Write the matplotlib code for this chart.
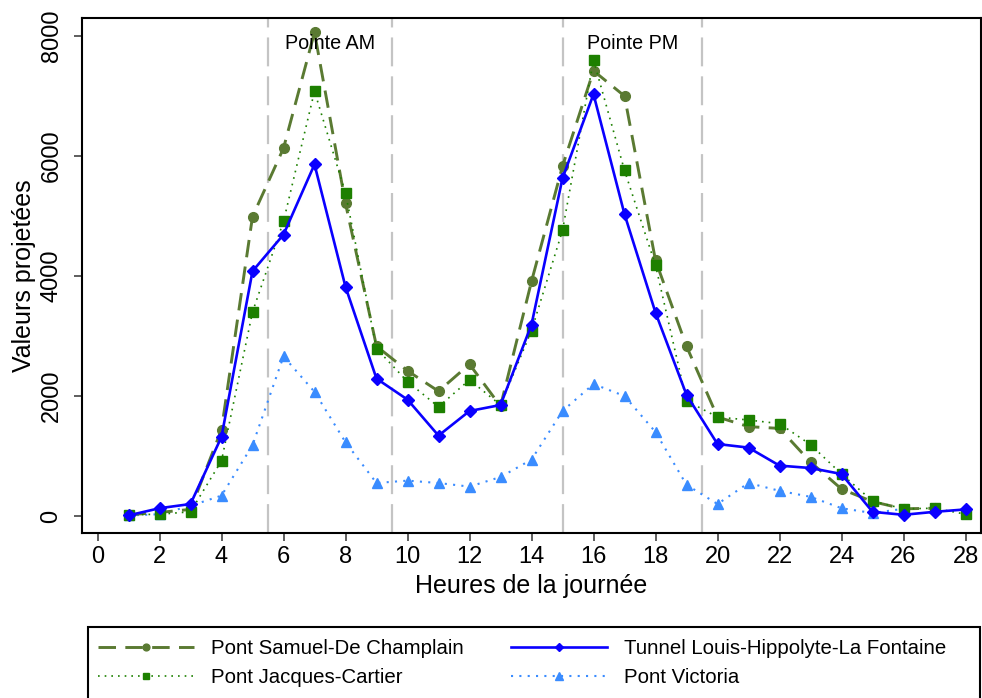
import numpy as np
import matplotlib
matplotlib.use("Agg")
import matplotlib.pyplot as plt
from matplotlib.patches import Rectangle

plt.rcParams['font.family'] = ['Liberation Sans', 'DejaVu Sans']

# Heures de la journée
heures = list(range(1, 29))

# Valeurs projetées par traversée
champlain = [20, 60, 110, 1440, 4990, 6130, 8060, 5210, 2830, 2420, 2080, 2530, 1830,
             3910, 5830, 7420, 7000, 4260, 2830, 1650, 1490, 1460, 900, 450, 240, 120, 130, np.nan]
jacques_cartier = [20, 30, 70, 920, 3400, 4910, 7080, 5380, 2790, 2240, 1820, 2270, 1850,
                   3090, 4760, 7600, 5760, 4180, 1920, 1650, 1600, 1540, 1190, 700, 250, 120, 130, 30]
tunnel = [10, 130, 200, 1320, 4080, 4690, 5860, 3820, 2290, 1940, 1340, 1750, 1850,
          3190, 5630, 7030, 5030, 3390, 2020, 1200, 1140, 840, 800, 700, 70, 20, 70, 110]
victoria = [10, 30, 170, 340, 1180, 2660, 2070, 1230, 550, 590, 550, 490, 650,
            940, 1750, 2200, 2000, 1400, 520, 200, 550, 420, 320, 130, 50, 120, np.nan, np.nan]

noms = ["Pont Samuel-De Champlain", "Pont Jacques-Cartier",
        "Tunnel Louis-Hippolyte-La Fontaine", "Pont Victoria"]

periodes = [(5.5, 9.5, "Pointe AM"), (15, 19.5, "Pointe PM")]
xticks = list(range(0, 29, 2))
yticks = [0, 2000, 4000, 6000, 8000]

W, H = 982, 698
fig = plt.figure(figsize=(W / 100, H / 100), dpi=100)
ax = fig.add_axes([82 / W, 1 - 533 / H, (981 - 82) / W, (533 - 18) / H])

# Périodes de pointe
for x0, x1, nom in periodes:
    for xv in (x0, x1):
        ax.axvline(xv, color="#c4c4c4", lw=1.6, ls=(0, (13, 4.5)), zorder=1)
    ax.text((x0 + x1) / 2, 7870, nom, ha="center", va="center", fontsize=14.2, zorder=5)

l1, = ax.plot(heures, champlain, color="#5a7a32", lw=2.1, ls=(0, (6, 3.2)),
              marker="o", ms=7, zorder=3)
l2, = ax.plot(heures, jacques_cartier, color="#1d8000", lw=1.2, ls=(0, (1, 3)),
              marker="s", ms=7, zorder=3)
l3, = ax.plot(heures, tunnel, color="#0a00ff", lw=1.9, ls="-",
              marker="D", ms=6.5, zorder=4)
l4, = ax.plot(heures, victoria, color="#3a8cff", lw=1.5, ls=(0, (1, 3)),
              marker="^", ms=7.5, zorder=2)

ax.set_xlim(-0.5, 28.5)
ax.set_ylim(-283, 8300)
ax.set_xticks(xticks)
ax.set_yticks(yticks)
ax.tick_params(axis="both", direction="out", length=6, width=1.1, labelsize=17, color="#333333")
ax.tick_params(axis="y", pad=8)
for lab in ax.get_yticklabels():
    lab.set_rotation(90)
    lab.set_va("center")
for s in ax.spines.values():
    s.set_linewidth(1.5)
    s.set_color("black")

ax.set_xlabel("Heures de la journée", fontsize=18, labelpad=4)
ax.set_ylabel("Valeurs projetées", fontsize=18, labelpad=3.5)

# Légende sous le graphique
leg = fig.legend([l1, l2, l3, l4], noms, loc="upper left",
                 bbox_to_anchor=(98 / W, 1 - 639 / H), ncol=2, frameon=False,
                 fontsize=14.7, handlelength=4.7, handletextpad=0.85,
                 columnspacing=2.3, labelspacing=0.5, borderpad=0, borderaxespad=0,
                 markerscale=0.7)
fig.add_artist(Rectangle((88 / W, -0.05), (980 - 88) / W, 0.05 + 1 - 627 / H,
                         transform=fig.transFigure, fill=False, ec="black", lw=1.5))

fig.savefig("out.png", dpi=100)
